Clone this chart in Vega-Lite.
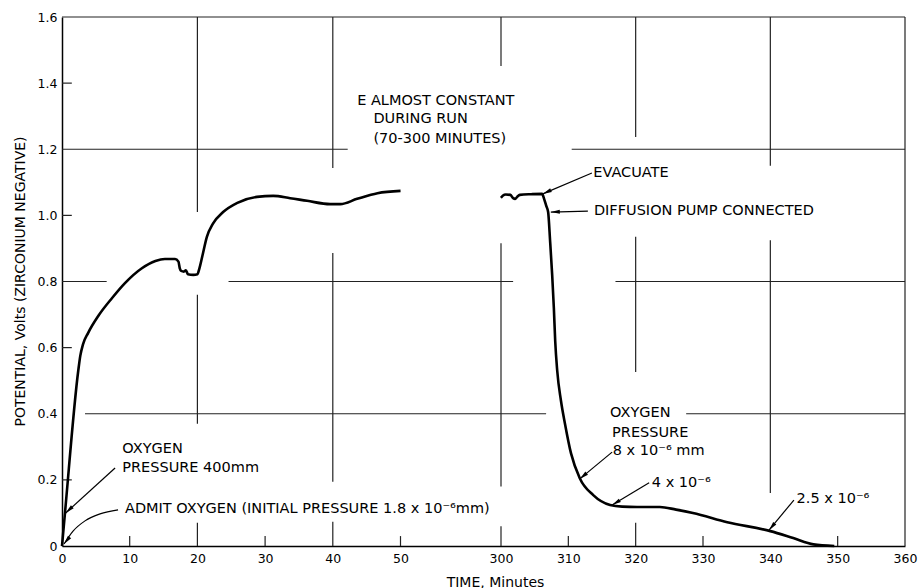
{
  "$schema": "https://vega.github.io/schema/vega-lite/v6.json",
  "width": 843,
  "height": 529,
  "autosize": {"type": "none"},
  "padding": {"left": 62, "top": 17, "right": 15, "bottom": 42},
  "background": "white",
  "config": {"view": {"stroke": null}, "font": "DejaVu Sans"},
  "datasets": {
    "curve": [
      {"seg": "run", "t": 0, "v": 0},
      {"seg": "run", "t": 0.44, "v": 0.1},
      {"seg": "run", "t": 2.4, "v": 0.53},
      {"seg": "run", "t": 2.7, "v": 0.575},
      {"seg": "run", "t": 3.1, "v": 0.61},
      {"seg": "run", "t": 3.85, "v": 0.644},
      {"seg": "run", "t": 5.4, "v": 0.697},
      {"seg": "run", "t": 7.4, "v": 0.75},
      {"seg": "run", "t": 9.3, "v": 0.795},
      {"seg": "run", "t": 11.8, "v": 0.84},
      {"seg": "run", "t": 13.8, "v": 0.862},
      {"seg": "run", "t": 15.2, "v": 0.868},
      {"seg": "run", "t": 16.7, "v": 0.868},
      {"seg": "run", "t": 17.2, "v": 0.86},
      {"seg": "run", "t": 17.4, "v": 0.84},
      {"seg": "run", "t": 17.6, "v": 0.832},
      {"seg": "run", "t": 18.0, "v": 0.83},
      {"seg": "run", "t": 18.3, "v": 0.834},
      {"seg": "run", "t": 18.6, "v": 0.822},
      {"seg": "run", "t": 19.4, "v": 0.82},
      {"seg": "run", "t": 20.0, "v": 0.822},
      {"seg": "run", "t": 20.3, "v": 0.84},
      {"seg": "run", "t": 20.7, "v": 0.874},
      {"seg": "run", "t": 21.4, "v": 0.935},
      {"seg": "run", "t": 22.3, "v": 0.975},
      {"seg": "run", "t": 23.8, "v": 1.01},
      {"seg": "run", "t": 25.9, "v": 1.038},
      {"seg": "run", "t": 28.8, "v": 1.056},
      {"seg": "run", "t": 31.2, "v": 1.059},
      {"seg": "run", "t": 33.7, "v": 1.052},
      {"seg": "run", "t": 36.2, "v": 1.044},
      {"seg": "run", "t": 39.6, "v": 1.034},
      {"seg": "run", "t": 41.1, "v": 1.034},
      {"seg": "run", "t": 43.6, "v": 1.05},
      {"seg": "run", "t": 46.6, "v": 1.067},
      {"seg": "run", "t": 50.1, "v": 1.074},
      {"seg": "evac", "t": 299.9, "v": 1.053},
      {"seg": "evac", "t": 300.3, "v": 1.06},
      {"seg": "evac", "t": 300.7, "v": 1.063},
      {"seg": "evac", "t": 301.4, "v": 1.062},
      {"seg": "evac", "t": 301.8, "v": 1.052},
      {"seg": "evac", "t": 302.1, "v": 1.05},
      {"seg": "evac", "t": 302.4, "v": 1.056},
      {"seg": "evac", "t": 302.8, "v": 1.062},
      {"seg": "evac", "t": 304.5, "v": 1.064},
      {"seg": "evac", "t": 306.1, "v": 1.065},
      {"seg": "evac", "t": 306.4, "v": 1.05},
      {"seg": "evac", "t": 306.7, "v": 1.03},
      {"seg": "evac", "t": 307.0, "v": 1.01},
      {"seg": "evac", "t": 307.3, "v": 0.92},
      {"seg": "evac", "t": 307.6, "v": 0.82},
      {"seg": "evac", "t": 307.85, "v": 0.72},
      {"seg": "evac", "t": 308.05, "v": 0.62},
      {"seg": "evac", "t": 308.35, "v": 0.53},
      {"seg": "evac", "t": 308.9, "v": 0.44},
      {"seg": "evac", "t": 309.5, "v": 0.37},
      {"seg": "evac", "t": 310.4, "v": 0.28},
      {"seg": "evac", "t": 311.7, "v": 0.205},
      {"seg": "evac", "t": 313.7, "v": 0.154},
      {"seg": "evac", "t": 316.2, "v": 0.124},
      {"seg": "evac", "t": 318.0, "v": 0.119},
      {"seg": "evac", "t": 320.2, "v": 0.118},
      {"seg": "evac", "t": 323.6, "v": 0.118},
      {"seg": "evac", "t": 326.0, "v": 0.11},
      {"seg": "evac", "t": 328.5, "v": 0.1},
      {"seg": "evac", "t": 333.6, "v": 0.072},
      {"seg": "evac", "t": 340.0, "v": 0.045},
      {"seg": "evac", "t": 343.4, "v": 0.024},
      {"seg": "evac", "t": 346.4, "v": 0.005},
      {"seg": "evac", "t": 349.5, "v": 0}
    ],
    "grid": [
      {"t": 0, "v": 1.6, "t2": 360, "v2": 1.6},
      {"t": 360, "v": 0, "t2": 360, "v2": 1.6},
      {"t": 0, "v": 1.2, "t2": 42.2, "v2": 1.2},
      {"t": 310.5, "v": 1.2, "t2": 360, "v2": 1.2},
      {"t": 0, "v": 0.8, "t2": 6.6, "v2": 0.8},
      {"t": 24.6, "v": 0.8, "t2": 301.8, "v2": 0.8},
      {"t": 317, "v": 0.8, "t2": 360, "v2": 0.8},
      {"t": 3.4, "v": 0.4, "t2": 306.7, "v2": 0.4},
      {"t": 327.5, "v": 0.4, "t2": 360, "v2": 0.4},
      {"t": 20, "v": 1.01, "t2": 20, "v2": 1.6},
      {"t": 20, "v": 0.37, "t2": 20, "v2": 0.76},
      {"t": 20, "v": 0, "t2": 20, "v2": 0.07},
      {"t": 40, "v": 1.143, "t2": 40, "v2": 1.6},
      {"t": 40, "v": 0.194, "t2": 40, "v2": 0.886},
      {"t": 40, "v": 0, "t2": 40, "v2": 0.073},
      {"t": 300, "v": 1.452, "t2": 300, "v2": 1.6},
      {"t": 300, "v": 0.18, "t2": 300, "v2": 0.916},
      {"t": 300, "v": 0, "t2": 300, "v2": 0.06},
      {"t": 320, "v": 1.237, "t2": 320, "v2": 1.6},
      {"t": 320, "v": 0.526, "t2": 320, "v2": 0.935},
      {"t": 320, "v": 0, "t2": 320, "v2": 0.07},
      {"t": 340, "v": 1.15, "t2": 340, "v2": 1.6},
      {"t": 340, "v": 0.16, "t2": 340, "v2": 0.925},
      {"t": 10, "v": 0, "t2": 10, "v2": 0.03},
      {"t": 30, "v": 0, "t2": 30, "v2": 0.03},
      {"t": 50, "v": 0, "t2": 50, "v2": 0.03},
      {"t": 310, "v": 0, "t2": 310, "v2": 0.03},
      {"t": 330, "v": 0, "t2": 330, "v2": 0.03},
      {"t": 350, "v": 0, "t2": 350, "v2": 0.03},
      {"t": 0, "v": 0.2, "t2": 1.45, "v2": 0.2},
      {"t": 0, "v": 0.6, "t2": 1.45, "v2": 0.6},
      {"t": 0, "v": 1.0, "t2": 1.45, "v2": 1.0},
      {"t": 0, "v": 1.4, "t2": 1.45, "v2": 1.4}
    ],
    "arrows": [
      {"arrow": "a1", "end": "tail", "t": 7.84, "v": 0.236},
      {"arrow": "a1", "end": "tip", "t": 0.55, "v": 0.1, "angle": 227},
      {"arrow": "a2", "end": "tail", "t": 8.28, "v": 0.109},
      {"arrow": "a2", "end": "mid", "t": 5.62, "v": 0.097},
      {"arrow": "a2", "end": "mid", "t": 3.4, "v": 0.076},
      {"arrow": "a2", "end": "mid", "t": 1.63, "v": 0.045},
      {"arrow": "a2", "end": "tip", "t": 0.3, "v": 0.006, "angle": 218},
      {"arrow": "a3", "end": "tail", "t": 313.5, "v": 1.128},
      {"arrow": "a3", "end": "tip", "t": 306.2, "v": 1.065, "angle": 246},
      {"arrow": "a4", "end": "tail", "t": 312.9, "v": 1.013},
      {"arrow": "a4", "end": "tip", "t": 307.4, "v": 1.01, "angle": 268},
      {"arrow": "a5", "end": "tail", "t": 316.5, "v": 0.284},
      {"arrow": "a5", "end": "tip", "t": 311.7, "v": 0.203, "angle": 230},
      {"arrow": "a6", "end": "tail", "t": 322.0, "v": 0.191},
      {"arrow": "a6", "end": "tip", "t": 316.5, "v": 0.124, "angle": 239},
      {"arrow": "a7", "end": "tail", "t": 343.5, "v": 0.139},
      {"arrow": "a7", "end": "tip", "t": 339.8, "v": 0.048, "angle": 220}
    ],
    "notes": [
      {"text": "E ALMOST CONSTANT", "t": 43.6, "v": 1.334},
      {"text": "DURING RUN", "t": 46.0, "v": 1.28},
      {"text": "(70-300 MINUTES)", "t": 46.0, "v": 1.219},
      {"text": "EVACUATE", "t": 313.7, "v": 1.116},
      {"text": "DIFFUSION PUMP CONNECTED", "t": 313.8, "v": 1.001},
      {"text": "OXYGEN", "t": 8.9, "v": 0.281},
      {"text": "PRESSURE 400mm", "t": 8.9, "v": 0.224},
      {"text": "ADMIT OXYGEN (INITIAL PRESSURE 1.8 x 10⁻⁶mm)", "t": 9.3, "v": 0.1},
      {"text": "OXYGEN", "t": 316.2, "v": 0.39},
      {"text": "PRESSURE", "t": 316.5, "v": 0.33},
      {"text": "8 x 10⁻⁶ mm", "t": 316.6, "v": 0.275},
      {"text": "4 x 10⁻⁶", "t": 322.4, "v": 0.178},
      {"text": "2.5 x 10⁻⁶", "t": 343.9, "v": 0.13}
    ]
  },
  "encoding": {
    "x": {
      "field": "t",
      "type": "quantitative",
      "scale": {"domain": [0, 50, 300, 360], "range": [0, 338.5, 439, 843], "nice": false, "zero": false},
      "axis": {
        "values": [0, 10, 20, 30, 40, 50, 300, 310, 320, 330, 340, 350, 360],
        "title": "TIME, Minutes",
        "grid": false,
        "ticks": false,
        "labelFlush": false,
        "labelOverlap": false,
        "labelPadding": 6,
        "labelFont": "DejaVu Sans",
        "labelFontSize": 12.5,
        "labelColor": "black",
        "domainColor": "black",
        "domainWidth": 1.5,
        "titleFont": "DejaVu Sans",
        "titleFontSize": 14,
        "titleFontWeight": "normal",
        "titleColor": "black",
        "titleX": 433,
        "titleY": 36,
        "titleBaseline": "middle"
      }
    },
    "y": {
      "field": "v",
      "type": "quantitative",
      "scale": {"domain": [0, 1.6], "nice": false, "zero": false},
      "axis": {
        "values": [0, 0.2, 0.4, 0.6, 0.8, 1.0, 1.2, 1.4, 1.6],
        "labelExpr": "datum.value == 0 ? '0' : format(datum.value, '.1f')",
        "title": "POTENTIAL, Volts (ZIRCONIUM NEGATIVE)",
        "grid": false,
        "ticks": false,
        "labelPadding": 5,
        "labelFont": "DejaVu Sans",
        "labelFontSize": 12.5,
        "labelColor": "black",
        "domainColor": "black",
        "domainWidth": 1.5,
        "titleFont": "DejaVu Sans",
        "titleFontSize": 14,
        "titleFontWeight": "normal",
        "titleColor": "black",
        "titleX": -42,
        "titleY": 264,
        "titleAngle": -90,
        "titleBaseline": "middle"
      }
    }
  },
  "layer": [
    {
      "data": {"name": "grid"},
      "mark": {"type": "rule", "color": "#222222", "strokeWidth": 1.2},
      "encoding": {
        "x2": {"field": "t2"},
        "y2": {"field": "v2"}
      }
    },
    {
      "data": {"name": "curve"},
      "mark": {"type": "line", "color": "black", "strokeWidth": 2.6, "interpolate": "monotone"},
      "encoding": {"detail": {"field": "seg"}}
    },
    {
      "data": {"name": "arrows"},
      "mark": {"type": "line", "color": "black", "strokeWidth": 1.2, "interpolate": "monotone"},
      "encoding": {"detail": {"field": "arrow"}}
    },
    {
      "data": {"name": "arrows"},
      "transform": [{"filter": "datum.end == 'tip'"}],
      "mark": {"type": "point", "shape": "M0,0L-0.45,2L0.45,2Z", "filled": true, "color": "black", "opacity": 1, "size": 81},
      "encoding": {"angle": {"field": "angle", "type": "quantitative", "scale": null}}
    },
    {
      "data": {"name": "notes"},
      "mark": {"type": "text", "align": "left", "baseline": "alphabetic", "font": "DejaVu Sans", "fontSize": 14.5, "color": "black"},
      "encoding": {"text": {"field": "text"}}
    }
  ]
}
